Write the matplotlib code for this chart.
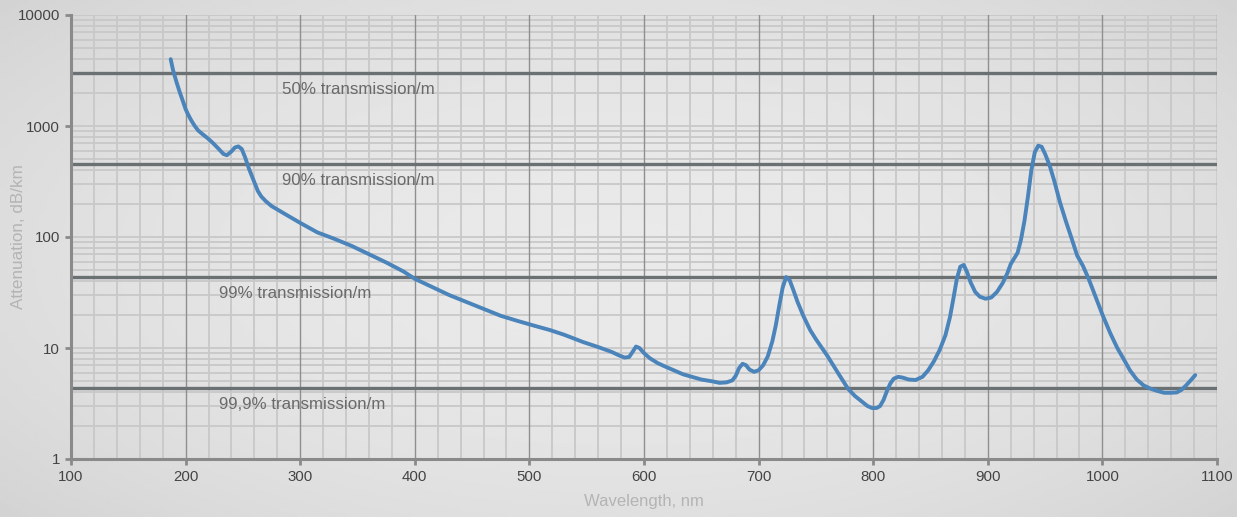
import numpy as np
import matplotlib.pyplot as plt
from matplotlib.ticker import FixedLocator, NullFormatter

# Attenuation curve
wavelength = [187, 189, 192, 195, 197, 200, 202, 205, 208, 211, 215, 219, 224, 229, 233, 236, 240,
              243, 246, 249, 252, 255, 259, 263, 266, 270, 275, 285, 300, 315, 329, 345, 360,
              375, 390, 400, 415, 430, 445, 460, 475, 490, 505, 518, 530, 547, 560, 572, 578,
              583, 587, 590, 593, 596, 600, 605, 612, 620, 634, 650, 660, 666, 672, 677, 680,
              683, 686, 689, 692, 696, 700, 704, 708, 712, 715, 718, 721, 724, 727, 730, 734,
              739, 745, 750, 760, 770, 778, 784, 790, 795, 799, 803, 806, 809, 812, 815, 818,
              822, 826, 831, 837, 843, 848, 853, 858, 863, 867, 870, 873, 876, 879, 882, 885,
              889, 893, 898, 903, 908, 913, 917, 920, 923, 926, 929, 932, 935, 938, 941, 944,
              947, 950, 954, 958, 963, 968, 973, 978, 983, 988, 994, 1000, 1007, 1013, 1019,
              1024, 1030, 1036, 1042, 1048, 1054, 1060, 1065, 1069, 1073, 1077, 1081]
attenuation = [4000, 3200, 2500, 2000, 1750, 1420, 1280, 1120, 1000, 910, 840, 780, 700, 620, 560, 545, 590,
               640, 655, 620, 520, 420, 330, 260, 232, 210, 190, 165, 134, 110, 97, 83, 70,
               59, 49, 42, 35.5, 30, 26, 22.5, 19.5, 17.5, 15.8, 14.5, 13.2, 11.3, 10.2, 9.2, 8.6,
               8.2, 8.3, 9.2, 10.3, 10.0, 9.0, 8.1, 7.3, 6.7, 5.8, 5.2, 5.0, 4.85, 4.9, 5.1, 5.6,
               6.6, 7.2, 7.0, 6.4, 6.1, 6.3, 7.0, 8.4, 11.5, 16, 24, 35, 43.6, 41, 34, 26,
               19.5, 14.5, 12, 8.5, 5.8, 4.3, 3.7, 3.3, 3.0, 2.88, 2.88, 3.0, 3.4, 4.1, 4.8, 5.3,
               5.5, 5.4, 5.2, 5.15, 5.5, 6.3, 7.6, 9.6, 13, 19, 28, 42, 54, 56, 48, 39,
               32, 29, 27.8, 28.5, 32, 38.5, 47, 57, 64, 72, 95, 140, 230, 400, 580, 665,
               650, 560, 440, 320, 205, 140, 98, 68, 55, 42, 29, 20, 13.5, 10, 7.8,
               6.3, 5.2, 4.6, 4.3, 4.1, 3.95, 3.95, 3.98, 4.2, 4.6, 5.1, 5.7]

levels = [3010, 457.6, 43.6, 4.345]
level_labels = ['50% transmission/m', '90% transmission/m', '99% transmission/m', '99,9% transmission/m']
label_x = [284, 284, 229, 229]

plt.rcParams['font.family'] = ['Liberation Sans', 'DejaVu Sans']

fig = plt.figure(figsize=(12.37, 5.17), dpi=100)

# background vignette
bg = fig.add_axes([0, 0, 1, 1], zorder=-10)
yy, xx = np.mgrid[-1:1:200j, -1:1:400j]
r = np.sqrt((xx * 0.9) ** 2 + (yy * 0.8) ** 2)
bg.imshow(0.915 - 0.06 * r ** 2, cmap='gray', vmin=0, vmax=1, aspect='auto', extent=[0, 1, 0, 1])
bg.axis('off')

ax = fig.add_axes([71 / 1237, 1 - 459 / 517, (1217 - 71) / 1237, (459 - 15) / 517])
ax.patch.set_alpha(0)
ax.set_yscale('log')
ax.set_xlim(100, 1100)
ax.set_ylim(1, 10000)

# grid
for x in range(120, 1100, 20):
    if x % 100:
        ax.axvline(x, color='#c8c8c8', lw=1.3, zorder=1)
for x in range(200, 1101, 100):
    ax.axvline(x, color='#8f8f8f', lw=1.0, zorder=1.5)
for d in [1, 10, 100, 1000]:
    for m in range(2, 11):
        ax.axhline(d * m, color='#c8c8c8', lw=1.3, zorder=1)

for lv, txt, lx in zip(levels, level_labels, label_x):
    ax.axhline(lv, color='#6b7072', lw=2.4, zorder=2)
    ax.text(lx, lv / 1.21, txt, fontsize=12.2, color='#6a6a6a', va='top', ha='left', zorder=3)

ax.plot(wavelength, attenuation, color='#4a84ba', lw=2.8, zorder=4,
        solid_capstyle='round', solid_joinstyle='round')

for s in ['top', 'right']:
    ax.spines[s].set_visible(False)
for s in ['left', 'bottom']:
    ax.spines[s].set_color('#8a8a8a')
    ax.spines[s].set_linewidth(2.2)
    ax.spines[s].set_zorder(5)

ax.set_xticks(range(100, 1101, 100))
ax.yaxis.set_major_locator(FixedLocator([1, 10, 100, 1000, 10000]))
ax.set_yticklabels(['1', '10', '100', '1000', '10000'])
ax.yaxis.set_minor_formatter(NullFormatter())
ax.tick_params(axis='y', which='minor', length=0)
ax.tick_params(which='major', length=4, width=2, color='#8a8a8a', labelsize=10.8,
               labelcolor='#444444', pad=4)

ax.set_xlabel('Wavelength, nm', fontsize=12, color='#b4b4b4')
ax.xaxis.set_label_coords(0.5, -35 / 444)
ax.set_ylabel('Attenuation, dB/km', fontsize=12.3, color='#b4b4b4')
ax.yaxis.set_label_coords(-45 / 1146, 0.5)

fig.savefig('out.png', dpi=100)
